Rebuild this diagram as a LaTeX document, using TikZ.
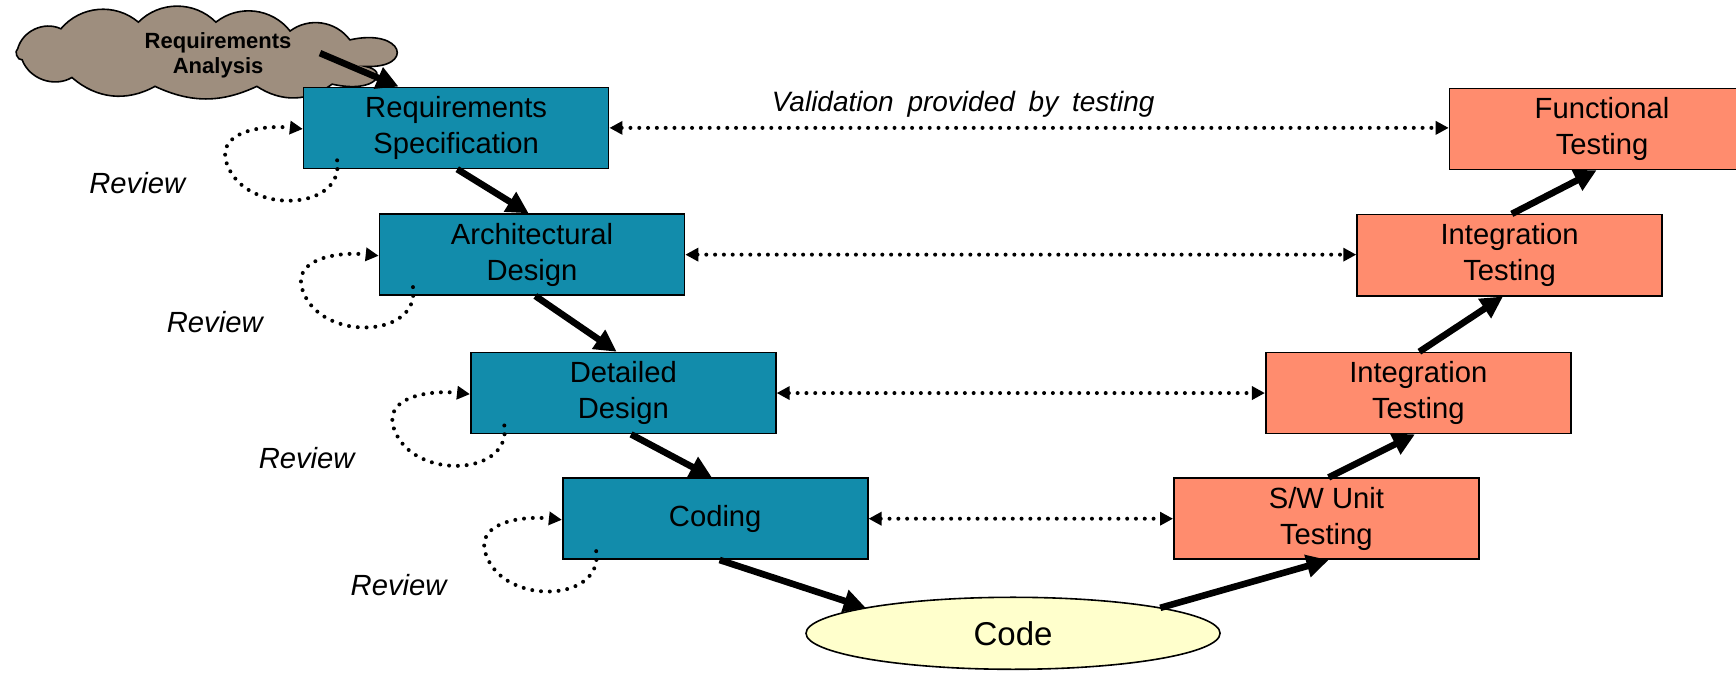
\documentclass[tikz,border=0pt]{standalone}
\usepackage{fontspec}
\setmainfont{Liberation Sans}
\usetikzlibrary{arrows.meta,shapes.geometric,calc}
\definecolor{teal1}{RGB}{18,140,171}
\definecolor{salmon1}{RGB}{255,140,110}
\definecolor{yell1}{RGB}{255,255,204}
\definecolor{cloud1}{RGB}{158,142,126}
\tikzset{
  vbox/.style={draw=black, line width=0.8pt, minimum width=152.5pt, minimum height=40.5pt, inner sep=0pt, align=center, font=\fontsize{14.6}{18}\selectfont},
  specbox/.style={vbox, fill=teal1},
  testbox/.style={vbox, fill=salmon1},
  bigarrow/.style={line width=3.3pt, -{Triangle[length=11pt,width=11pt]}},
  dotarrow/.style={line width=2pt, line cap=round, dash pattern=on 0pt off 4.4pt, {Triangle[length=6.5pt,width=6.5pt]}-{Triangle[length=6.5pt,width=6.5pt]}},
  loopline/.style={line width=2pt, line cap=round, dash pattern=on 0pt off 4.4pt, -{Triangle[length=6.5pt,width=6.5pt]}},
  revlabel/.style={font=\fontsize{14.6}{17}\selectfont\itshape},
}
\begin{document}
\begin{tikzpicture}[x=0.5535pt,y=-0.5535pt]
\useasboundingbox (0,0) rectangle (1568,607);
% cloud
\draw[line width=0.8pt, fill=cloud1]
  (16,44) to[bend left=50] (55,26) to[bend left=45] (125,20) to[bend left=45] (195,20)
  to[bend left=45] (262,28) to[bend left=45] (316,36)
  .. controls (365,25) and (375,62) .. (330,60)
  .. controls (352,64) and (340,85) .. (300,76)
  to[bend left=35] (232,78) to[bend left=25] (140,78) to[bend left=35] (65,70)
  to[bend left=50] (20,54) to[bend left=80] cycle;
\node[align=center, font=\fontsize{11}{12.7}\selectfont\bfseries] (catext) at (197,50) {Requirements\\Analysis};
% left boxes
\node[specbox] (rs) at (412,115.5) {Requirements\\Specification};
\node[specbox] (ad) at (480.5,230) {Architectural\\Design};
\node[specbox] (dd) at (563,355) {Detailed\\Design};
\node[specbox] (cod) at (646,468.5) {Coding};
% right boxes
\node[testbox] (ft) at (1447,116.5) {Functional\\Testing};
\node[testbox] (it1) at (1363.5,230.5) {Integration\\Testing};
\node[testbox] (it2) at (1281,355) {Integration\\Testing};
\node[testbox] (sw) at (1198,468.5) {S/W Unit\\Testing};
% code
\node[ellipse, draw=black, line width=0.8pt, fill=yell1, minimum width=207pt, minimum height=36pt, inner sep=0pt, font=\fontsize{16.5}{19}\selectfont] (code) at (915,572) {Code};
% thick arrows
\draw[bigarrow] ($(catext.center)+(92,-2)$) -- ($(rs.north)+(-52,0)$);
\draw[bigarrow] ($(rs.south)+(1,0)$) -- ($(ad.north)+(-3,0)$);
\draw[bigarrow] ($(ad.south)+(3,0)$) -- ($(dd.north)+(-6,0)$);
\draw[bigarrow] ($(dd.south)+(7,0)$) -- ($(cod.north)+(-3,0)$);
\draw[bigarrow] ($(cod.south)+(4,0)$) -- ($(code.center)+(-133,-23)$);
\draw[bigarrow] ($(code.center)+(133,-23)$) -- ($(sw.south)+(2,0)$);
\draw[bigarrow] ($(sw.north)+(2,0)$) -- ($(it2.south)+(-3,0)$);
\draw[bigarrow] ($(it2.north)+(1,0)$) -- ($(it1.south)+(-6,0)$);
\draw[bigarrow] ($(it1.north)+(2,0)$) -- ($(ft.south)+(-5,0)$);
% dotted validation arrows
\draw[dotarrow] (rs.east) -- (rs.east -| ft.west);
\draw[dotarrow] (ad.east) -- (ad.east -| it1.west);
\draw[dotarrow] (dd.east) -- (dd.east -| it2.west);
\draw[dotarrow] (cod.east) -- (cod.east -| sw.west);
\node[revlabel, font=\fontsize{14}{17}\selectfont\itshape] (val) at (870,94) {Validation\hspace{3pt} provided\hspace{3pt} by\hspace{3pt} testing};
% review loops
\foreach \b in {rs,ad,dd,cod}{
  \draw[loopline] ($(\b.south west)+(31,-8)$) .. controls ($(\b.south west)+(38,40)$) and ($(\b.south west)+(-59,42)$) .. ($(\b.south west)+(-70,-10)$) .. controls ($(\b.south west)+(-74,-35)$) and ($(\b.south west)+(-34,-40)$) .. ($(\b.west)+(0,1)$);
}
\node[revlabel] (r1) at (124,165) {Review};
\node[revlabel] (r2) at (194,291) {Review};
\node[revlabel] (r3) at (277,414) {Review};
\node[revlabel] (r4) at (360,528) {Review};
\end{tikzpicture}
\end{document}
